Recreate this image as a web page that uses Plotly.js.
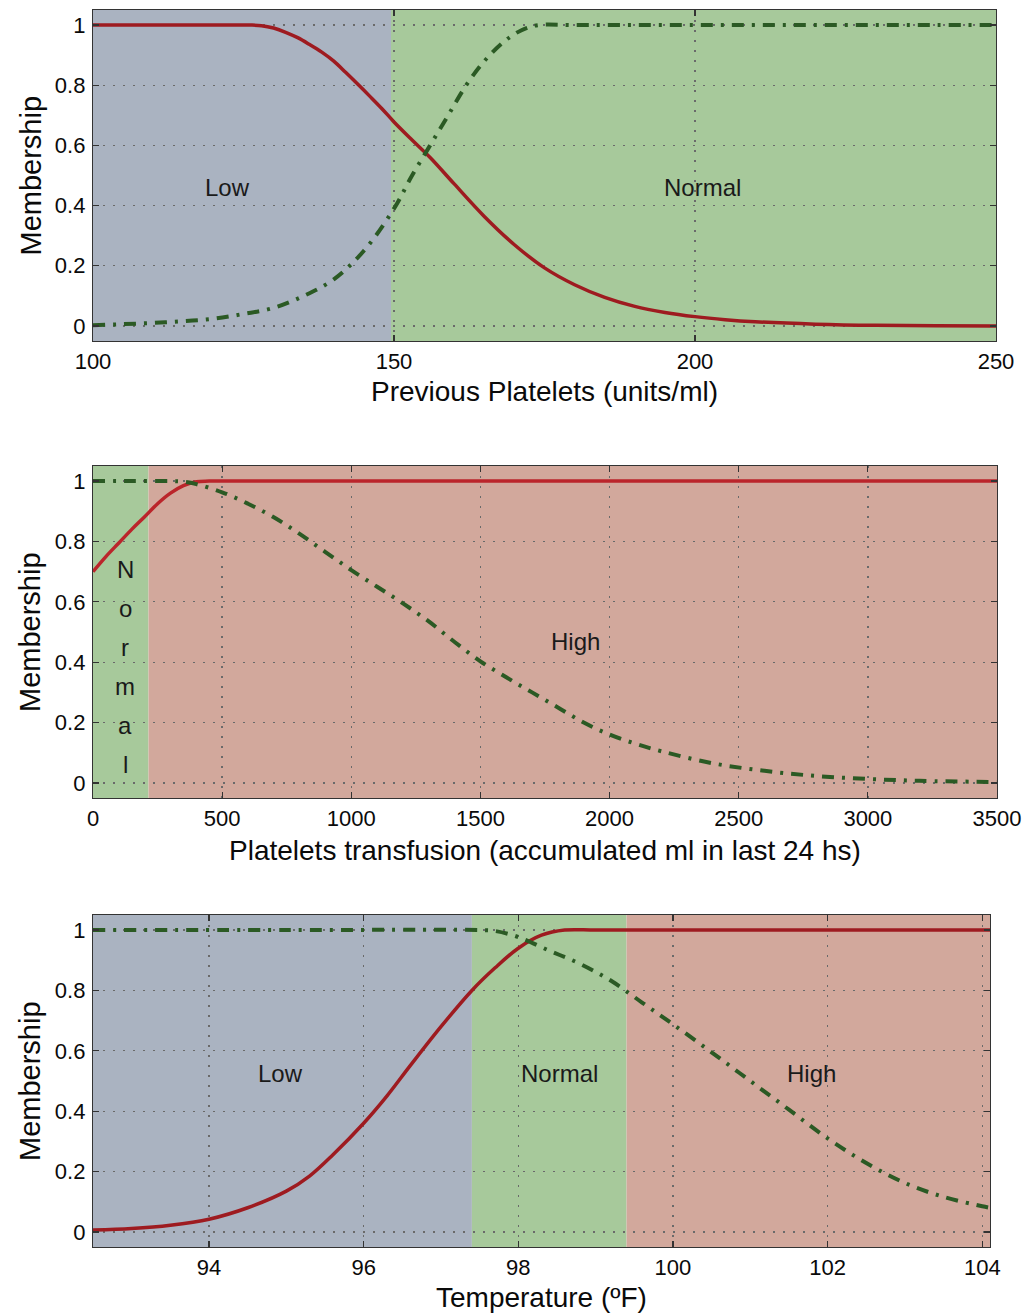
<!DOCTYPE html>
<html>
<head>
<meta charset="utf-8">
<script src="https://cdn.plot.ly/plotly-3.0.1.min.js"></script>
<style>html,body{margin:0;padding:0;background:#fff;}#chart{width:1028px;height:1315px;}</style>
</head>
<body>
<div id="chart"></div>
<script>
// ---- Panel 1: Previous Platelets ----
const p1X = [100,110,120,126,128,130,132,134,136,138,140,142,144,146,148,150,153,156,160,165,170,175,180,185,190,195,200,205,210,220,230,240,250];
const p1Low = [1,1,1,1,0.998,0.99,0.976,0.958,0.935,0.91,0.88,0.842,0.803,0.763,0.722,0.678,0.618,0.56,0.472,0.364,0.27,0.193,0.137,0.095,0.065,0.045,0.031,0.021,0.014,0.006,0.002,0.001,0];
const p1NX = [100,105,110,115,120,125,130,135,140,145,150,153,156,159,162,165,168,170,172,174,180,190,200,210,220,230,240,250];
const p1Normal = [0.002,0.006,0.01,0.016,0.024,0.04,0.06,0.1,0.155,0.25,0.39,0.5,0.6,0.7,0.8,0.88,0.94,0.97,0.99,1,1,1,1,1,1,1,1,1];
const p1Ticks = [100,150,200,250];
const p1Regions = [{name:'Low', from:100, to:149.5}, {name:'Normal', from:149.5, to:250}];

// ---- Panel 2: Platelets transfusion ----
const p2X = [0,50,100,150,200,250,300,350,400,450,600,1000,1500,2000,2500,3000,3500];
const p2Normal = [0.70,0.75,0.795,0.84,0.882,0.925,0.96,0.985,0.998,1,1,1,1,1,1,1,1];
const p2HX = [0,150,300,350,400,500,600,700,800,900,1000,1100,1200,1300,1400,1500,1600,1700,1800,1900,2000,2100,2200,2400,2600,2800,3000,3200,3500];
const p2High = [1,1,1,0.998,0.99,0.963,0.925,0.88,0.825,0.765,0.705,0.65,0.595,0.535,0.467,0.403,0.35,0.3,0.25,0.2,0.16,0.13,0.105,0.065,0.04,0.023,0.013,0.007,0.003];
const p2Ticks = [0,500,1000,1500,2000,2500,3000,3500];
const p2Regions = [{name:'Normal', from:0, to:215}, {name:'High', from:215, to:3500}];

// ---- Panel 3: Temperature ----
const p3X = [92.5,93,93.5,94,94.5,95,95.3,95.6,96,96.3,96.6,97,97.4,97.7,98,98.3,98.6,99,100,101,102,103,104,104.1];
const p3Normal = [0.006,0.011,0.022,0.042,0.08,0.135,0.185,0.255,0.36,0.45,0.55,0.68,0.8,0.875,0.94,0.983,1,1,1,1,1,1,1,1];
const p3HX = [92.5,95,97.5,97.7,98,98.4,98.8,99.2,99.6,100,100.5,101,101.5,102,102.5,103,103.5,104,104.1];
const p3High = [1,1,1,0.997,0.977,0.932,0.888,0.832,0.76,0.688,0.595,0.5,0.405,0.31,0.228,0.162,0.116,0.085,0.08];
const p3Ticks = [94,96,98,100,102,104];
const p3Regions = [{name:'Low', from:92.5, to:97.4}, {name:'Normal', from:97.4, to:99.4}, {name:'High', from:99.4, to:104.1}];

const yTicks = [0,0.2,0.4,0.6,0.8,1];
const xTitles = ['Previous Platelets (units/ml)', 'Platelets transfusion (accumulated ml in last 24 hs)', 'Temperature (ºF)'];
const yTitle = 'Membership';
const regionLabels = {
  p1: [{text:'Low', x:122.4, y:0.46}, {text:'Normal', x:201.2, y:0.46}],
  p2: [{text:'High', x:1869, y:0.47}],
  p3: [{text:'Low', x:94.92, y:0.526}, {text:'Normal', x:98.53, y:0.526}, {text:'High', x:101.79, y:0.526}]
};
const verticalLabel = ['N','o','r','m','a','l'];

// ---- styling ----
const FONT = 'Liberation Sans, Arial, Helvetica, sans-serif';
const regionColor = {Low:'#aab3c1', Normal:'#a7c99b', High:'#d2a89c'};
const W = 1028, H = 1315;
const panels = [
  {l:93, r:996, t:10, b:341, range:[100,250], ticks:p1Ticks, regions:p1Regions, tx:391},
  {l:93, r:997, t:466, b:798, range:[0,3500], ticks:p2Ticks, regions:p2Regions, tx:850},
  {l:93, r:990, t:915, b:1247, range:[92.5,104.1], ticks:p3Ticks, regions:p3Regions, tx:1297}
];

const redLine = {color:'#9e1b20', width:3.5};
const greenLine = {color:'#2b5a24', width:4, dash:'12px,8px,3px,8px'};

const traces = [
  {x:p1X, y:p1Low, xaxis:'x', yaxis:'y', line:redLine},
  {x:p1NX, y:p1Normal, xaxis:'x', yaxis:'y', line:greenLine},
  {x:p2X, y:p2Normal, xaxis:'x2', yaxis:'y2', line:Object.assign({}, redLine, {color:'#bb252b'})},
  {x:p2HX, y:p2High, xaxis:'x2', yaxis:'y2', line:greenLine},
  {x:p3X, y:p3Normal, xaxis:'x3', yaxis:'y3', line:redLine},
  {x:p3HX, y:p3High, xaxis:'x3', yaxis:'y3', line:greenLine}
].map(t => Object.assign({type:'scatter', mode:'lines', hoverinfo:'skip'}, t, {line:Object.assign({shape:'spline', smoothing:1}, t.line)}));

const layout = {
  width:W, height:H, margin:{l:0,r:0,t:0,b:0}, showlegend:false,
  paper_bgcolor:'#ffffff', plot_bgcolor:'#ffffff',
  font:{family:FONT, size:22, color:'#111'},
  shapes:[], annotations:[]
};

panels.forEach((p, i) => {
  const sfx = i === 0 ? '' : String(i+1);
  const common = {
    showline:true, linecolor:'#333', linewidth:1.2, mirror:'ticks',
    ticks:'inside', ticklen:6, tickwidth:1.2, tickcolor:'#333',
    showgrid:true, gridcolor:'#6a6a6a', griddash:'2px,8px', gridwidth:1.3,
    zeroline:false, fixedrange:true,
    tickfont:{family:FONT, size:22, color:'#0a0a0a'}
  };
  layout['xaxis'+sfx] = Object.assign({}, common, {
    domain:[p.l/W, p.r/W], anchor:'y'+sfx, range:p.range,
    tickmode:'array', tickvals:p.ticks, ticklabelstandoff:0
  });
  layout['yaxis'+sfx] = Object.assign({}, common, {
    domain:[1-p.b/H, 1-p.t/H], anchor:'x'+sfx, range:[-0.05,1.05],
    tickmode:'array', tickvals:yTicks, ticklabelstandoff:2
  });
  p.regions.forEach(r => {
    layout.shapes.push({type:'rect', layer:'below', xref:'x'+sfx, yref:'y'+sfx+' domain',
      x0:r.from, x1:r.to, y0:0, y1:1, fillcolor:regionColor[r.name], line:{width:0}});
  });
  layout.annotations.push({xref:'paper', yref:'paper', x:(p.l+p.r)/2/W, y:1-p.tx/H,
    text:xTitles[i], showarrow:false, xanchor:'center', yanchor:'middle',
    font:{family:FONT, size:28, color:'#0a0a0a'}});
  layout.annotations.push({xref:'paper', yref:'paper', x:30/W, y:1-(p.t+p.b)/2/H,
    text:yTitle, textangle:-90, showarrow:false, xanchor:'center', yanchor:'middle',
    font:{family:FONT, size:29, color:'#0a0a0a'}});
  const key = 'p'+(i+1);
  regionLabels[key].forEach(a => {
    layout.annotations.push({xref:'x'+sfx, yref:'y'+sfx, x:a.x, y:a.y, text:a.text,
      showarrow:false, xanchor:'center', yanchor:'middle', font:{family:FONT, size:24, color:'#1a1a1a'}});
  });
});

verticalLabel.forEach((ch, k) => {
  layout.annotations.push({xref:'x2', yref:'y2', x:124, y:0.708 - k*0.1296, text:ch,
    showarrow:false, xanchor:'center', yanchor:'middle', font:{family:FONT, size:24, color:'#1a1a1a'}});
});

Plotly.newPlot('chart', traces, layout, {staticPlot:true, displayModeBar:false});
</script>
</body>
</html>
